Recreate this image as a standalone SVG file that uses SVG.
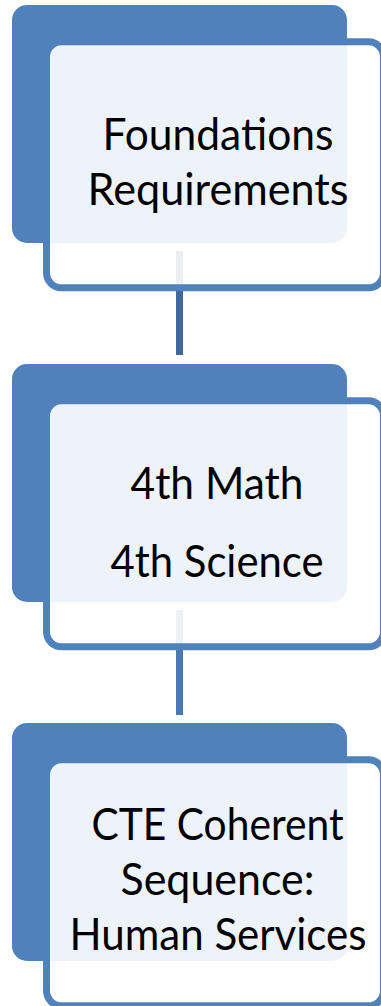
<svg xmlns="http://www.w3.org/2000/svg" width="381" height="1006" viewBox="0 0 381 1006">
<style>
.back{fill:#4F81BD}
.front{fill:#FFFFFF;fill-opacity:0.9;stroke:#4F81BD;stroke-width:7}
.conn{stroke-width:7;fill:none}
.lbl{font-family:Lato,"Open Sans",sans-serif;font-size:45px;fill:#000000;text-anchor:middle}
</style>
<rect width="381" height="1006" fill="#FFFFFF"/>
<g id="node1-back"><rect class="back" x="12" y="5" width="335" height="238" rx="15"/></g>
<g id="node2-back"><rect class="back" x="12" y="364" width="335" height="238" rx="15"/></g>
<g id="node3-back"><rect class="back" x="12" y="723" width="335" height="238" rx="15"/></g>
<g id="connectors">
<line class="conn" x1="179.5" y1="251" x2="179.5" y2="355" stroke="#41689B"/>
<line class="conn" x1="179.5" y1="610" x2="179.5" y2="715" stroke="#4A78B1"/>
</g>
<g id="node1">
<rect class="front" x="46.5" y="41.8" width="337" height="246" rx="15"/>
<text class="lbl" x="218" y="150" textLength="231" lengthAdjust="spacingAndGlyphs">Foundations</text>
<text class="lbl" x="218" y="205" textLength="261" lengthAdjust="spacingAndGlyphs">Requirements</text>
</g>
<g id="node2">
<rect class="front" x="46.5" y="400.8" width="337" height="246" rx="15"/>
<text class="lbl" x="217" y="499" textLength="173" lengthAdjust="spacingAndGlyphs">4th Math</text>
<text class="lbl" x="217" y="577" textLength="213" lengthAdjust="spacingAndGlyphs">4th Science</text>
</g>
<g id="node3">
<rect class="front" x="46.5" y="759.8" width="337" height="246" rx="15"/>
<text class="lbl" x="217.5" y="840" textLength="252" lengthAdjust="spacingAndGlyphs">CTE Coherent</text>
<text class="lbl" x="217.5" y="895" textLength="194" lengthAdjust="spacingAndGlyphs">Sequence:</text>
<text class="lbl" x="218" y="950" textLength="297" lengthAdjust="spacingAndGlyphs">Human Services</text>
</g>
</svg>
